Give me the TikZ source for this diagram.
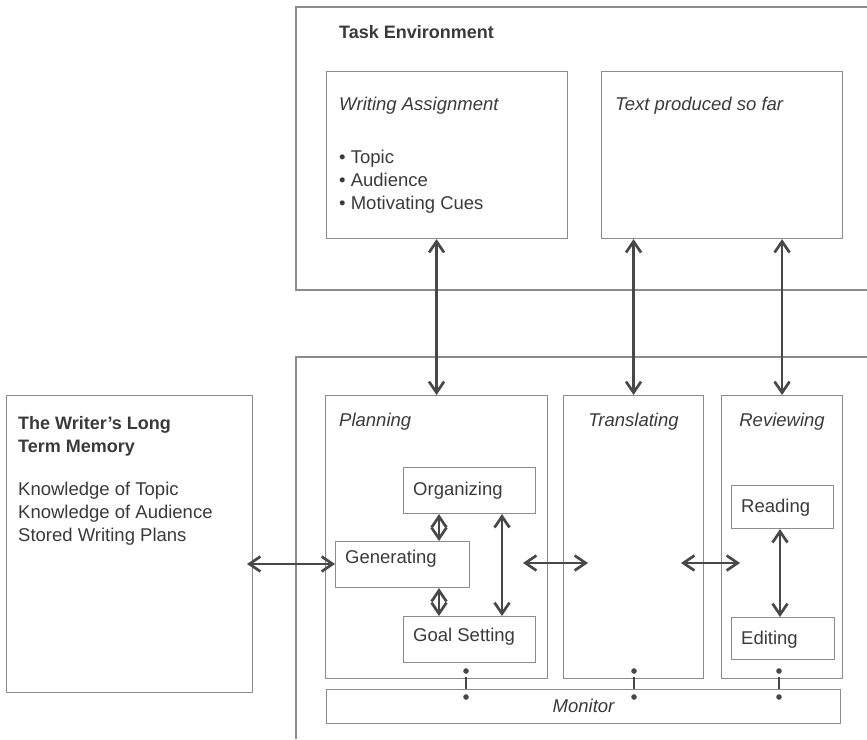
\documentclass[tikz,border=0pt]{standalone}
\usepackage{fontspec}
\setmainfont{Liberation Sans}
\usetikzlibrary{arrows.meta,calc}
\definecolor{boxc}{HTML}{8C8C8C}
\definecolor{arrc}{HTML}{484848}
\definecolor{txtc}{HTML}{3A3A3A}
\begin{document}
\begin{tikzpicture}[x=1pt,y=-1pt,
  every node/.style={font=\fontsize{18.5}{23}\selectfont, text=txtc},
  box/.style={draw=boxc, line width=1.1pt, anchor=north west, inner sep=0pt},
  lbl/.style={anchor=base west, inner sep=0pt},
  clbl/.style={anchor=base, inner sep=0pt},
  ttl/.style={anchor=base west, inner sep=0pt, font=\fontsize{18}{23}\selectfont\bfseries},
  arr/.style={draw=arrc, line width=2.7pt, {Straight Barb[length=11pt,width=15pt]}-{Straight Barb[length=11pt,width=15pt]}},
  mdot/.style={fill=arrc},
]
\useasboundingbox (0,0) rectangle (867,739);
% outer frames (open to the right)
\draw[boxc, line width=1.1pt] (867,7) -- (296,7) -- (296,290) -- (867,290);
\draw[boxc, line width=1.1pt] (867,357) -- (296,357) -- (296,739);
\node[ttl] (tetitle) at (339,38) {Task Environment};

% task environment boxes
\node[box, minimum width=241pt, minimum height=167pt] (wa) at (326,71) {};
\node[box, minimum width=241pt, minimum height=167pt] (tp) at (601,71) {};
\node[lbl] (watitle) at (339,110) {\itshape Writing Assignment};
\node[lbl] (b1) at (339,163) {• Topic};
\node[lbl] (b2) at (339,186) {• Audience};
\node[lbl] (b3) at (339,209) {• Motivating Cues};
\node[lbl] (tptitle) at (615,110) {\itshape Text produced so far};

% long term memory
\node[box, minimum width=246pt, minimum height=297pt] (ltm) at (6,395) {};
\node[ttl] (l1) at (18,429) {The Writer’s Long};
\node[ttl] (l2) at (18,452) {Term Memory};
\node[lbl] (k1) at (18,495) {Knowledge of Topic};
\node[lbl] (k2) at (18,518) {Knowledge of Audience};
\node[lbl] (k3) at (18,541) {Stored Writing Plans};

% process boxes
\node[box, minimum width=222pt, minimum height=283pt] (plan) at (325,395) {};
\node[box, minimum width=140pt, minimum height=283pt] (trans) at (563,395) {};
\node[box, minimum width=121pt, minimum height=283pt] (rev) at (721,395) {};
\node[lbl] (plant) at (339,426) {\itshape Planning};
\node[clbl] (transt) at (trans.north |- 0,426) {\itshape Translating};
\node[clbl] (revt) at (rev.north |- 0,426) {\itshape Reviewing};

\node[box, minimum width=132pt, minimum height=46pt] (org) at (403,467) {};
\node[box, minimum width=134pt, minimum height=46pt] (gen) at (335,541) {};
\node[box, minimum width=132pt, minimum height=46pt] (goal) at (403,616) {};
\node[lbl] (orgt) at (413,495) {Organizing};
\node[lbl] (gent) at (345,563) {Generating};
\node[lbl] (goalt) at (413,641) {Goal Setting};

\node[box, minimum width=102pt, minimum height=43pt] (read) at (731,485) {};
\node[box, minimum width=103pt, minimum height=42pt] (edit) at (731,617) {};
\node[lbl] (readt) at (741,512) {Reading};
\node[lbl] (editt) at (741,644) {Editing};

\node[box, minimum width=514pt, minimum height=34pt] (mon) at (326,689) {};
\node[clbl] (mont) at (mon.center |- 0,712) {\itshape Monitor};

% connectors task environment <-> processes
\draw[arr] (plan.north |- wa.south) -- (plan.north);
\draw[arr] (trans.north |- tp.south) -- (trans.north);
\draw[arr] (rev.north |- tp.south) -- (rev.north);

% horizontal connectors
\coordinate (ltmR) at (247,564);
\draw[arr] (ltmR) -- (gen.west |- ltmR);
\coordinate (pt1) at (523,563);
\coordinate (pt2) at (588,563);
\draw[arr] (pt1) -- (pt2);
\coordinate (tr1) at (681,563);
\coordinate (tr2) at (740,563);
\draw[arr] (tr1) -- (tr2);

% planning internal
\draw[arr] (439,0 |- org.south) -- (439,0 |- gen.north);
\draw[arr] (439,0 |- gen.south) -- (439,0 |- goal.north);
\draw[arr] (502,0 |- org.south) -- (502,0 |- goal.north);
% reviewing internal
\draw[arr] (780,0 |- read.south) -- (780,0 |- edit.north);

% monitor links
\foreach \mx/\nm in {466/pm, 634/tm, 779/rm} {
  \coordinate (\nm a) at (\mx,671);
  \coordinate (\nm b) at (\mx,697);
  \fill[mdot] (\nm a) circle (2.8pt);
  \fill[mdot] (\nm b) circle (2.8pt);
  \draw[arrc, line width=2.6pt] ($(\nm a)+(0,6)$) -- ($(\nm b)+(0,-8)$);
}
\end{tikzpicture}
\end{document}
